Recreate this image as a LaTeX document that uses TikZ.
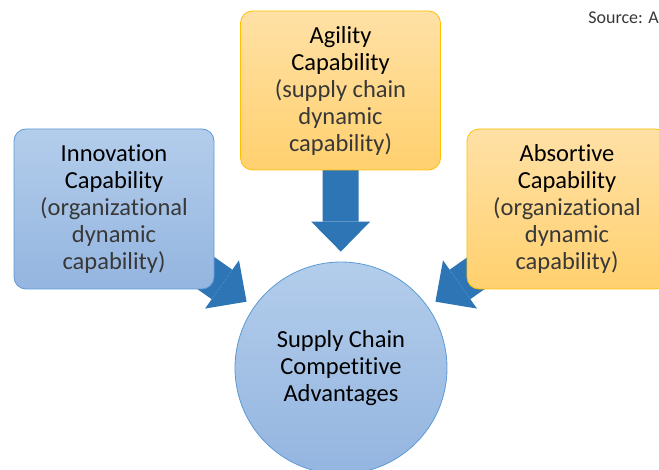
\documentclass[tikz,border=0pt]{standalone}
\usepackage{fontspec}
\setmainfont{Carlito}[Ligatures={NoCommon}]
\usetikzlibrary{arrows.meta}
\definecolor{btop}{HTML}{B3CDEB}
\definecolor{bbot}{HTML}{94B5E0}
\definecolor{bline}{HTML}{5B9BD5}
\definecolor{otop}{HTML}{FFE1A6}
\definecolor{obot}{HTML}{FFD06E}
\definecolor{oline}{HTML}{FFC000}
\definecolor{arrowblue}{HTML}{2E75B6}
\definecolor{subgray}{HTML}{383838}
\pgfdeclarelayer{bg}
\pgfsetlayers{bg,main}
\tikzset{
  txt/.style={font=\fontsize{24.5}{27}\selectfont, align=center, text=black},
  bluebox/.style={txt, rounded corners=12pt, draw=bline, line width=0.8pt, top color=btop, bottom color=bbot, minimum width=200pt, minimum height=160pt, inner sep=0pt},
  orangebox/.style={txt, rounded corners=12pt, draw=oline, line width=0.8pt, top color=otop, bottom color=obot, minimum width=200pt, minimum height=159pt, inner sep=0pt},
  bigarrow/.style={draw=arrowblue, line width=36pt, -{Triangle[length=30pt, width=59pt, line width=0pt]}},
}
\newcommand{\sub}[1]{\textcolor{subgray}{#1}}
\begin{document}
\begin{tikzpicture}[x=1pt, y=-1pt]
\useasboundingbox (0,0) rectangle (659,470);
\clip (0,0) rectangle (659,470);

\node[bluebox] (inno) at (114,209) {Innovation\\Capability\\\sub{(organizational}\\\sub{dynamic}\\\sub{capability)}};
\node[orangebox] (agil) at (340.5,90.5) {Agility\\Capability\\\sub{(supply chain}\\\sub{dynamic}\\\sub{capability)}};
\node[orangebox, minimum height=160pt] (abso) at (567,209) {Absortive\\Capability\\\sub{(organizational}\\\sub{dynamic}\\\sub{capability)}};
\node[txt, circle, draw=bline, line width=0.8pt, top color=btop, bottom color=bbot, minimum size=212pt, inner sep=0pt] (circ) at (341,368) {Supply Chain\\Competitive\\Advantages};

\node[font=\fontsize{18}{20}\selectfont, text=subgray, anchor=east, inner sep=0pt] (src) at (659,18) {Source: A};

\coordinate (la) at (173,250);
\coordinate (ra) at (509,250);
\begin{pgfonlayer}{bg}
\draw[bigarrow, shorten >=10pt] (agil.center) -- (circ);
\draw[bigarrow, shorten >=9pt] (la) -- (circ);
\draw[bigarrow, shorten >=9pt] (ra) -- (circ);
\end{pgfonlayer}
\end{tikzpicture}
\end{document}
